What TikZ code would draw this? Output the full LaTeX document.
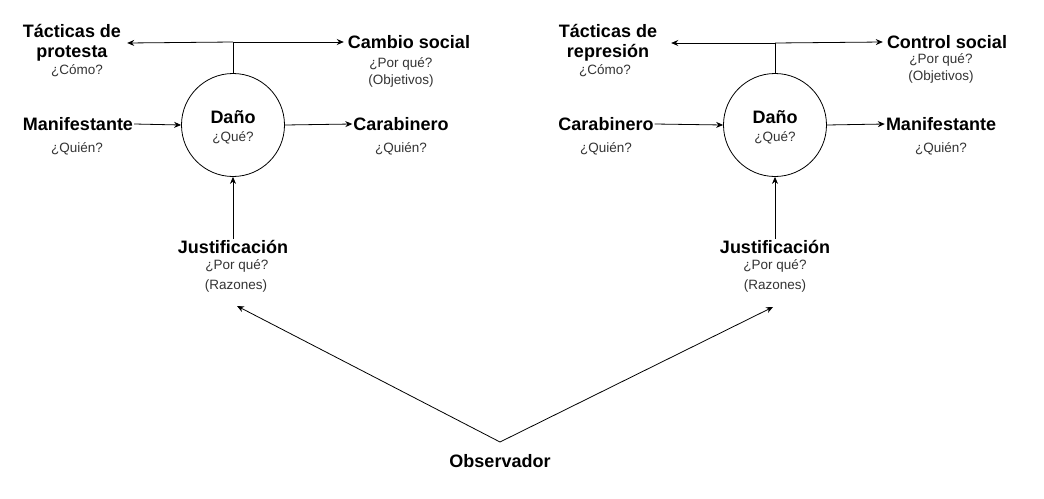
\documentclass[tikz,border=0pt]{standalone}
\usepackage{fontspec}
\setmainfont{Liberation Sans}
\usetikzlibrary{arrows.meta}
\begin{document}
\begin{tikzpicture}[x=1pt,y=-1pt,
  big/.style={font=\fontsize{18}{20}\selectfont\bfseries,inner sep=1pt,align=center},
  small/.style={font=\fontsize{13.5}{17}\selectfont,text=black!80,inner sep=1pt,align=center},
  circ/.style={draw,circle,minimum size=103pt,inner sep=0pt,line width=0.8pt},
  arr/.style={-{Stealth[length=7pt,width=6pt]},line width=0.8pt},
  ln/.style={line width=0.8pt}]
\useasboundingbox (0,0) rectangle (1044,498);
% ---------- left ----------
\node[circ] (d1) at (233,125) {};
\node[big] (d1t) at (233,117) {Daño};
\node[small] (d1q) at (233,138) {¿Qué?};
\node[big,inner xsep=6pt] (t1) at (72,43) {Tácticas de\\protesta};
\node[small] (t1q) at (77,71) {¿Cómo?};
\node[big,inner xsep=4pt] (c1) at (409,42) {Cambio social};
\node[small] (c1q) at (401,72) {¿Por qué?\\(Objetivos)};
\node[big] (m1) at (78,124) {Manifestante};
\node[small] (m1q) at (77,149) {¿Quién?};
\node[big] (k1) at (401,124) {Carabinero};
\node[small] (k1q) at (401,149) {¿Quién?};
\node[big] (j1) at (233,247) {Justificación};
\node[small] (j1q) at (237,266) {¿Por qué?};
\node[small] (j1r) at (236,286) {(Razones)};
\coordinate (h1) at (233,42);
\coordinate (e1) at (237,306);
\draw[ln] (d1.north) -- (h1);
\draw[arr] (h1) -- (t1.east);
\draw[arr] (h1) -- (c1.west);
\draw[arr] (m1.east) -- (d1.west);
\draw[arr] (d1.east) -- (k1.west);
\draw[arr] (j1.north) -- (d1.south);
% ---------- right ----------
\node[circ] (d2) at (775,125) {};
\node[big] (d2t) at (775,117) {Daño};
\node[small] (d2q) at (775,138) {¿Qué?};
\node[big,inner xsep=14pt] (t2) at (608,43) {Tácticas de\\represión};
\node[small] (t2q) at (605,71) {¿Cómo?};
\node[big,inner xsep=4pt] (c2) at (947,42) {Control social};
\node[small] (c2q) at (941,68) {¿Por qué?\\(Objetivos)};
\node[big] (k2) at (606,124) {Carabinero};
\node[small] (k2q) at (606,149) {¿Quién?};
\node[big] (m2) at (941,124) {Manifestante};
\node[small] (m2q) at (941,149) {¿Quién?};
\node[big] (j2) at (775,247) {Justificación};
\node[small] (j2q) at (775,266) {¿Por qué?};
\node[small] (j2r) at (775,286) {(Razones)};
\coordinate (h2) at (775,43);
\coordinate (e2) at (773,307);
\draw[ln] (d2.north) -- (h2);
\draw[arr] (h2) -- (t2.east);
\draw[arr] (h2) -- (c2.west);
\draw[arr] (k2.east) -- (d2.west);
\draw[arr] (d2.east) -- (m2.west);
\draw[arr] (j2.north) -- (d2.south);
% ---------- observer ----------
\node[big] (o) at (500,461) {Observador};
\coordinate (oa) at (500,442);
\draw[arr] (oa) -- (e1);
\draw[arr] (oa) -- (e2);
\end{tikzpicture}
\end{document}
